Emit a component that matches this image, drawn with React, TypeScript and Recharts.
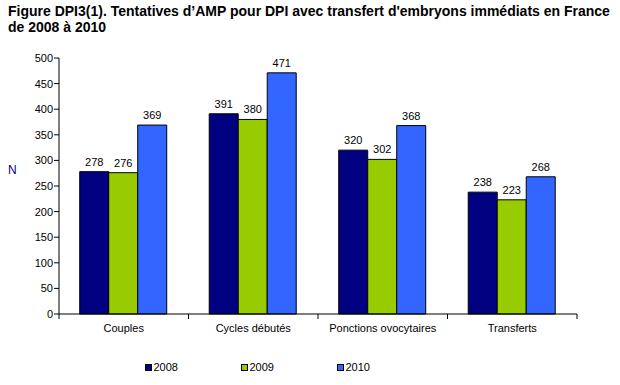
import React from "react";
import { BarChart, Bar, XAxis, YAxis, LabelList, Legend } from "recharts";

const categories = ["Couples", "Cycles débutés", "Ponctions ovocytaires", "Transferts"];
const series2008 = [278, 391, 320, 238];
const series2009 = [276, 380, 302, 223];
const series2010 = [369, 471, 368, 268];
const seriesNames = ["2008", "2009", "2010"];
const seriesColors = ["#000080", "#99CC00", "#3366FF"];
const yTicks = [0, 50, 100, 150, 200, 250, 300, 350, 400, 450, 500];

const data = categories.map((c, i) => ({
  name: c,
  v2008: series2008[i],
  v2009: series2009[i],
  v2010: series2010[i],
}));

const FONT = "'Liberation Sans', Arial, sans-serif";
const TICK_SIZE = 5;
const TICK_MARGIN = 6;

const LegendContent = () => (
  <div style={{ display: "flex", justifyContent: "center", fontFamily: FONT, fontSize: 11, color: "#000" }}>
    {seriesNames.map((n, i) => (
      <div key={n} style={{ display: "flex", alignItems: "center", width: 96 }}>
        <span
          style={{
            display: "inline-block",
            width: 5,
            height: 5,
            background: seriesColors[i],
            border: "1px solid #000",
            marginRight: 2,
          }}
        />
        <span>{n}</span>
      </div>
    ))}
  </div>
);

const CategoryTick = (props: any) => {
  const { x, y, payload, index, width } = props;
  const band = width / categories.length;
  const axisY = y - TICK_MARGIN;
  const left = x - band / 2;
  const right = x + band / 2;
  return (
    <g>
      <line x1={left} x2={left} y1={axisY} y2={axisY + TICK_SIZE} stroke="#000" />
      {index === categories.length - 1 && (
        <line x1={right} x2={right} y1={axisY} y2={axisY + TICK_SIZE} stroke="#000" />
      )}
      <text x={x} y={y + TICK_SIZE - 1} dy="0.71em" textAnchor="middle" fill="#000" fontSize={11} fontFamily={FONT}>
        {payload.value}
      </text>
    </g>
  );
};

export default function App() {
  const keys = ["v2008", "v2009", "v2010"];
  return (
    <div style={{ position: "absolute", left: 0, top: 0, width: 620, height: 385, background: "#fff" }}>
      <div
        style={{
          position: "absolute",
          left: 8,
          top: 3,
          fontFamily: FONT,
          fontWeight: "bold",
          fontSize: 14,
          lineHeight: "16px",
          color: "#000",
          width: 612,
          whiteSpace: "nowrap",
        }}
      >
        Figure DPI3(1). Tentatives d’AMP pour DPI avec transfert d'embryons immédiats en France
        <br />
        de 2008 à 2010
      </div>
      <BarChart
        width={620}
        height={385}
        data={data}
        margin={{ top: 58, right: 43, bottom: 11, left: 0 }}
        barCategoryGap="16%"
        barGap={0}
      >
        <XAxis
          dataKey="name"
          tickLine={false}
          tickSize={0}
          axisLine={{ stroke: "#000" }}
          tick={<CategoryTick />}
          tickMargin={TICK_MARGIN}
          interval={0}
          height={40}
        />
        <YAxis
          domain={[0, 500]}
          ticks={yTicks}
          width={59}
          axisLine={{ stroke: "#000" }}
          tickLine={{ stroke: "#000" }}
          tickSize={5}
          tick={{ fill: "#000", fontSize: 11, fontFamily: FONT }}
          tickMargin={1}
          label={{ value: "N", angle: 0, position: "insideLeft", offset: 8, fill: "#000080", fontSize: 12, fontFamily: FONT, dy: -16 }}
        />
        <Legend verticalAlign="bottom" height={20} content={<LegendContent />} wrapperStyle={{ bottom: 4 }} />
        {keys.map((k, i) => (
          <Bar key={k} dataKey={k} name={seriesNames[i]} fill={seriesColors[i]} stroke="#000" strokeWidth={1} isAnimationActive={false}>
            <LabelList dataKey={k} position="top" offset={6} style={{ fill: "#000", fontSize: 11, fontFamily: FONT }} />
          </Bar>
        ))}
      </BarChart>
    </div>
  );
}
